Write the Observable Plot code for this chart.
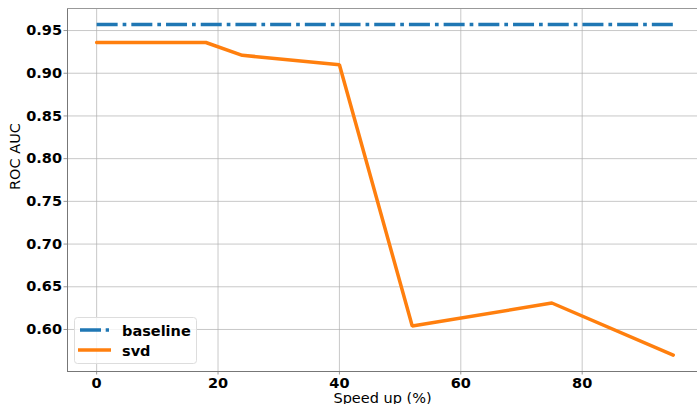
<!DOCTYPE html>
<html><head><meta charset="utf-8">
<script src="https://cdn.jsdelivr.net/npm/d3@7"></script>
<script src="https://cdn.jsdelivr.net/npm/@observablehq/plot@0.6"></script>
<style>
body{margin:0;background:#fff}
</style>
</head><body><div id="chart"></div>
<script>
const speedUp = [0, 18, 24, 40, 52, 75, 95];
const svdAuc = [0.936, 0.936, 0.921, 0.910, 0.604, 0.631, 0.570];
const baselineX = [0, 95];
const baselineAuc = [0.957, 0.957];
const xTicks = [0, 20, 40, 60, 80];
const yTicks = [0.60, 0.65, 0.70, 0.75, 0.80, 0.85, 0.90, 0.95];

const svd = speedUp.map((x, i) => ({x, y: svdAuc[i]}));
const base = baselineX.map((x, i) => ({x, y: baselineAuc[i]}));
const font = "DejaVu Sans";

const plot = Plot.plot({
  width: 697, height: 404,
  marginLeft: 67, marginRight: 0, marginTop: 8, marginBottom: 33,
  style: {fontFamily: font, fontSize: "14.5px", background: "#fff", overflow: "visible"},
  x: {domain: [-4.8, 99.0]},
  y: {domain: [0.5508, 0.9758]},
  marks: [
    Plot.gridX(xTicks, {stroke: "#b0b0b0", strokeOpacity: 0.7, strokeWidth: 1}),
    Plot.gridY(yTicks, {stroke: "#b0b0b0", strokeOpacity: 0.7, strokeWidth: 1}),
    Plot.axisX(xTicks, {tickSize: 3.5, stroke: "#999", label: null, tickFormat: () => ""}),
    Plot.axisY(yTicks, {tickSize: 3.5, stroke: "#999", label: null, tickFormat: () => ""}),
    Plot.text(xTicks, {x: d => d, frameAnchor: "bottom", lineAnchor: "top", dy: 6, text: d => String(d),
      fontSize: 14.5, fontWeight: "bold", fill: "#000", fontFamily: font}),
    Plot.text(yTicks, {y: d => d, frameAnchor: "left", textAnchor: "end", dx: -5.5, text: d => d.toFixed(2),
      fontSize: 14.5, fontWeight: "bold", fill: "#000", fontFamily: font}),
    Plot.frame({anchor: "left", stroke: "#777"}),
    Plot.frame({anchor: "bottom", stroke: "#777"}),
    Plot.frame({anchor: "top", stroke: "#999"}),
    Plot.line(base, {x: "x", y: "y", stroke: "#1f77b4", strokeWidth: 3.5, strokeDasharray: "21,5,3.7,5", strokeLinecap: "butt"}),
    Plot.line(svd, {x: "x", y: "y", stroke: "#ff7f0e", strokeWidth: 3.5, strokeLinejoin: "miter"}),
    Plot.text(["ROC AUC"], {frameAnchor: "left", rotate: -90, dx: -52, fontSize: 14.5, fill: "#000", fontFamily: font}),
    Plot.text(["Speed up (%)"], {frameAnchor: "bottom", dy: 31, fontSize: 14.5, fill: "#000", fontFamily: font})
  ]
});
document.getElementById("chart").appendChild(plot);

// legend
const svg = d3.select(plot);
const lg = svg.append("g");
lg.append("rect").attr("x", 74.5).attr("y", 317.5).attr("width", 122).attr("height", 46)
  .attr("rx", 3).attr("fill", "#fff").attr("fill-opacity", 0.8).attr("stroke", "#ddd");
const entries = [
  {label: "baseline", color: "#1f77b4", dash: "21,4.7,3.7,5", y: 330, x1: 80, x2: 109},
  {label: "svd", color: "#ff7f0e", dash: null, y: 350, x1: 78, x2: 111}
];
entries.forEach(e => {
  const l = lg.append("line").attr("x1", e.x1).attr("x2", e.x2).attr("y1", e.y).attr("y2", e.y)
    .attr("stroke", e.color).attr("stroke-width", 3.5);
  if (e.dash) l.attr("stroke-dasharray", e.dash);
  lg.append("text").attr("x", 122).attr("y", e.y + 5.5).text(e.label)
    .style("font-family", font).style("font-size", "14.5px").style("font-weight", "bold")
    .style("text-anchor", "start").style("fill", "#000");
});
</script></body></html>
